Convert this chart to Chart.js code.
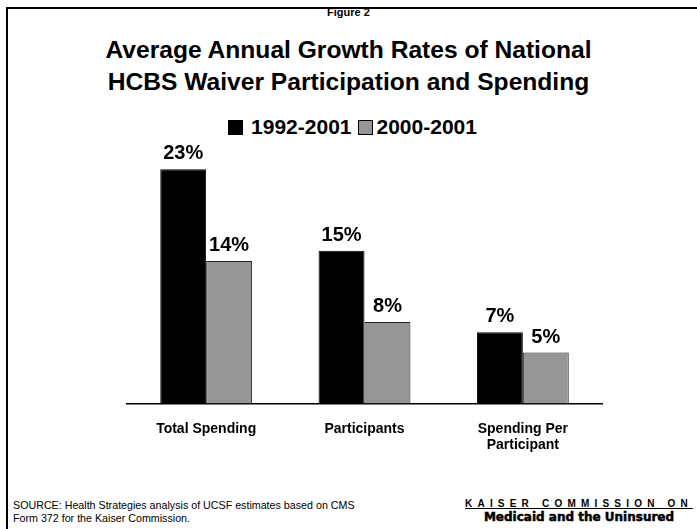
<!DOCTYPE html>
<html lang="en">
<head>
  <meta charset="UTF-8">
  <title>Figure 2</title>
  <style>
    body {
      margin: 0;
      background-color: #fff;
      font-family: Arial, "Liberation Sans", sans-serif;
      color: #000;
    }
    #page {
      position: relative;
      width: 697px;
      height: 529px;
      overflow: hidden;
    }
    #frame {
      position: absolute;
      left: 6px;
      top: 7px;
      right: 0;
      bottom: 0;
      border-left: 2px solid #000;
      border-top: 2px solid #000;
    }
    #fig {
      position: absolute;
      top: 6px;
      width: 697px;
      text-align: center;
      font-weight: bold;
      font-size: 11px;
    }
    #title {
      position: absolute;
      top: 34px;
      width: 697px;
      text-align: center;
      font-weight: bold;
      font-size: 24.6px;
      line-height: 32px;
    }
    #legend {
      position: absolute;
      top: 115px;
      left: 4px;
      width: 697px;
      text-align: center;
      font-weight: bold;
      font-size: 21px;
    }
    .box {
      display: inline-block;
      width: 13px;
      height: 13px;
      margin: 0 8px 0 0;
      border: 1px solid #000;
      vertical-align: -1px;
    }
    #chartWrap {
      position: absolute;
      left: 0;
      top: 135px;
      width: 697px;
      height: 346px;
    }
    #source {
      position: absolute;
      left: 13px;
      top: 499px;
      font-size: 10.7px;
      line-height: 13px;
    }
    #kaiser {
      position: absolute;
      left: 464px;
      top: 498px;
      width: 230px;
      text-align: center;
      font-weight: bold;
    }
    #kaiser .k1 {
      font-size: 10px;
      letter-spacing: 5.2px;
      text-decoration: underline;
    }
    #kaiser .k2 {
      font-size: 12px;
      font-weight: 900;
      font-family: "DejaVu Sans", sans-serif;
      -webkit-text-stroke: 0.5px #000;
      margin-top: 1px;
    }
  </style>
</head>
<body>
<div id="page">
  <div id="frame"></div>
  <div id="fig">Figure 2</div>
  <div id="title">Average Annual Growth Rates of National<br>HCBS Waiver Participation and Spending</div>
  <div id="legend"><span class="box" style="background:#000"></span>1992-2001<span class="box" style="background:#969696;margin-left:6px;margin-right:4px"></span>2000-2001</div>
  <div id="chartWrap"><canvas id="chart"></canvas></div>
  <div id="source">SOURCE: Health Strategies analysis of UCSF estimates based on CMS<br>Form 372 for the Kaiser Commission.</div>
  <div id="kaiser"><div class="k1">KAISER COMMISSION ON</div><div class="k2">Medicaid and the Uninsured</div></div>
</div>

<script src="https://cdn.jsdelivr.net/npm/chart.js"></script>
<script>
  const categories = ['Total Spending', 'Participants', ['Spending Per', 'Participant']];
  const series1992 = [23, 15, 7];
  const series2000 = [14, 8, 5];
  const seriesNames = ['1992-2001', '2000-2001'];

  // draws "23%" etc. above each bar
  const valueLabels = {
    id: 'valueLabels',
    afterDatasetsDraw(chart) {
      const ctx = chart.ctx;
      ctx.save();
      ctx.font = 'bold 20px Arial, "Liberation Sans", sans-serif';
      ctx.fillStyle = '#000';
      ctx.textAlign = 'center';
      ctx.textBaseline = 'alphabetic';
      chart.data.datasets.forEach((ds, i) => {
        chart.getDatasetMeta(i).data.forEach((bar, j) => {
          ctx.fillText(ds.data[j] + '%', bar.x, bar.y - 10);
        });
      });
      ctx.restore();
    }
  };

  new Chart(document.getElementById('chart'), {
    type: 'bar',
    data: {
      labels: categories,
      datasets: [
        {
          label: seriesNames[0],
          data: series1992,
          backgroundColor: '#000',
          borderColor: '#000',
          borderWidth: 1
        },
        {
          label: seriesNames[1],
          data: series2000,
          backgroundColor: '#969696',
          borderColor: '#222',
          borderWidth: 1
        }
      ]
    },
    options: {
      responsive: true,
      maintainAspectRatio: false,
      animation: false,
      layout: { padding: { left: 127, right: 95, top: 14, bottom: 10 } },
      datasets: {
        bar: { barPercentage: 1, categoryPercentage: 0.58 }
      },
      scales: {
        x: {
          grid: { display: false, drawTicks: false },
          border: { display: true, color: '#000', width: 1.5 },
          ticks: {
            color: '#000',
            padding: 17,
            font: { family: 'Arial, "Liberation Sans", sans-serif', size: 14, weight: 'bold' }
          }
        },
        y: {
          display: false,
          min: 0,
          max: 25
        }
      },
      plugins: {
        legend: { display: false },
        tooltip: { enabled: false }
      }
    },
    plugins: [valueLabels]
  });
</script>
</body>
</html>
